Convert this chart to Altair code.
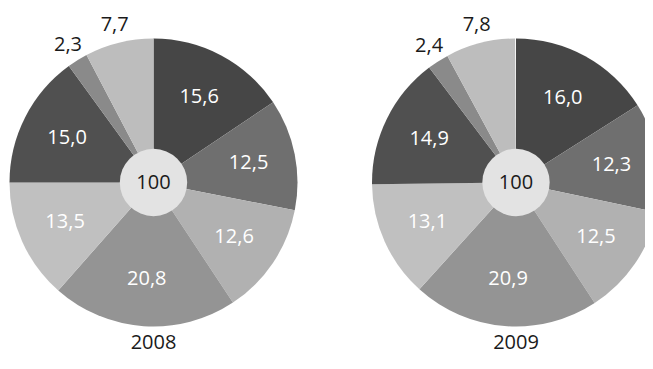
import math
import altair as alt
import pandas as pd

years = ["2008", "2009"]
segments = ["s1", "s2", "s3", "s4", "s5", "s6", "s7", "s8"]
values_2008 = [15.6, 12.5, 12.6, 20.8, 13.5, 15.0, 2.3, 7.7]
values_2009 = [16.0, 12.3, 12.5, 20.9, 13.1, 14.9, 2.4, 7.8]
seg_colors = ["#464646", "#6f6f6f", "#b1b1b1", "#949494",
              "#c0c0c0", "#505050", "#8a8a8a", "#bdbdbd"]
outside_segments = ["s7", "s8"]

rows = []
for yr, vals in zip(years, [values_2008, values_2009]):
    for i, (s, v) in enumerate(zip(segments, vals)):
        rows.append({"year": yr, "seg": s, "order": i, "value": v,
                     "label": f"{v:.1f}".replace(".", ",")})
df = pd.DataFrame(rows)

FONT = "Open Sans"
FS = 20
W, H = 637, 349
centers = {"2008": (145.5, 174.5), "2009": (508, 174.5)}
R_OUT = 144
R_IN = 38

layers = []
for yr in years:
    cx, cy = centers[yr]
    base = alt.Chart(df).transform_filter(alt.datum.year == yr)
    arc = base.mark_arc(outerRadius=R_OUT).encode(
        theta=alt.Theta("value:Q", stack=True),
        order=alt.Order("order:Q"),
        color=alt.Color("seg:N", scale=alt.Scale(domain=segments, range=seg_colors), legend=None),
        x=alt.value(cx), y=alt.value(cy),
    )
    pos = (base
           .transform_window(cum="sum(value)", sort=[alt.SortField("order")], frame=[None, 0])
           .transform_joinaggregate(total="sum(value)")
           .transform_calculate(angle="(datum.cum - datum.value/2) / datum.total * 2 * PI"))
    inside = pos.transform_filter(
        {"not": alt.FieldOneOfPredicate(field="seg", oneOf=outside_segments)}
    ).mark_text(radius=97, font=FONT, fontSize=FS, color="white").encode(
        theta=alt.Theta("angle:Q", scale=None),
        text="label:N",
        x=alt.value(cx), y=alt.value(cy),
    )
    outside = pos.transform_filter(
        alt.FieldOneOfPredicate(field="seg", oneOf=outside_segments)
    ).mark_text(radius=162, font=FONT, fontSize=FS, color="#1a1a1a").encode(
        theta=alt.Theta("angle:Q", scale=None),
        text="label:N",
        x=alt.value(cx), y=alt.value(cy),
    )
    agg = base.transform_aggregate(total="sum(value)", groupby=["year"])
    hole = agg.mark_circle(size=math.pi * R_IN ** 2, color="#e3e3e3", opacity=1).encode(
        x=alt.value(cx), y=alt.value(cy),
    )
    hole_text = agg.mark_text(font=FONT, fontSize=FS, color="#1a1a1a").encode(
        text=alt.Text("total:Q", format=".0f"),
        x=alt.value(cx), y=alt.value(cy),
    )
    year_text = agg.mark_text(font=FONT, fontSize=FS, color="#1a1a1a", baseline="bottom").encode(
        text="year:N",
        x=alt.value(cx), y=alt.value(H - 4),
    )
    layers += [arc, inside, outside, hole, hole_text, year_text]

chart = alt.layer(*layers).properties(
    width=W, height=H, padding=0,
    autosize=alt.AutoSizeParams(type="none"),
).configure_view(stroke=None)

chart.save("out.html", embed_options={"renderer": "svg", "actions": False})
